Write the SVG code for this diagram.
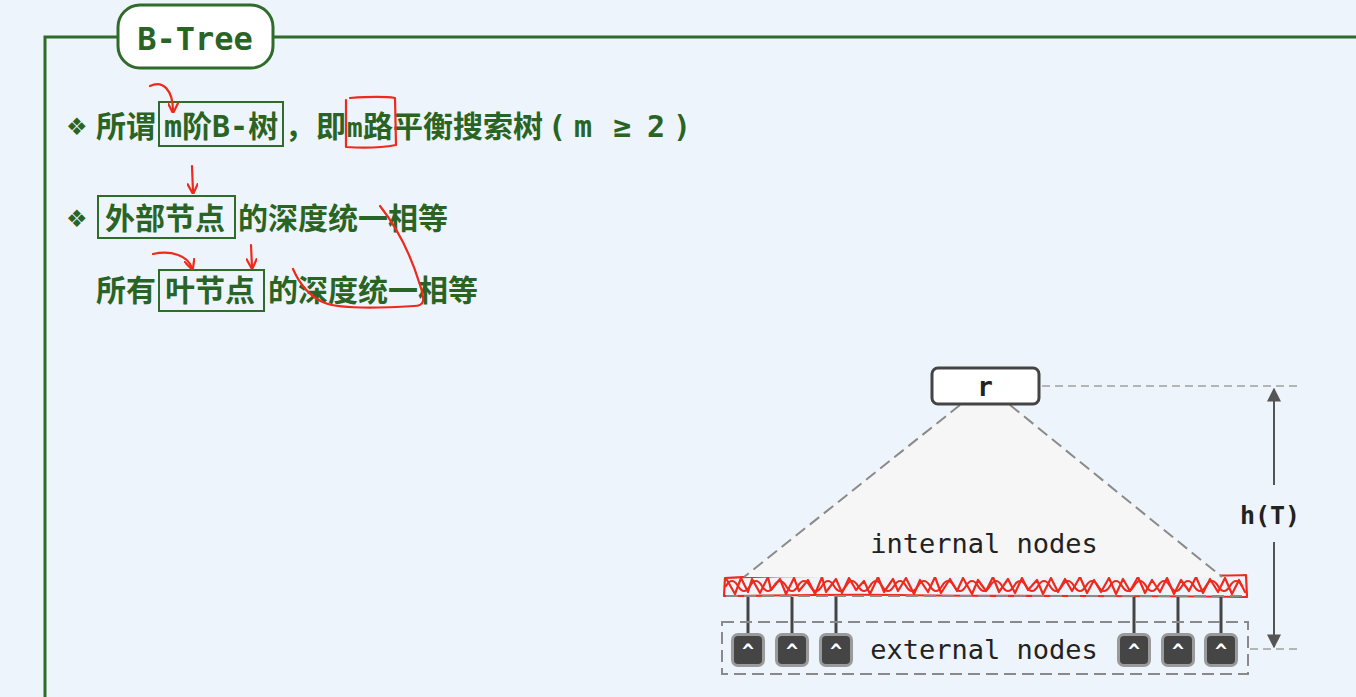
<svg xmlns="http://www.w3.org/2000/svg" width="1356" height="697" viewBox="0 0 1356 697">
<defs>
<style>
.cn{font-family:'DejaVu Sans Mono','Noto Sans CJK SC',monospace;font-weight:bold;font-size:30px;fill:#2a6424}
.bul{font-family:'DejaVu Sans','Noto Sans CJK SC',sans-serif;font-size:24px;fill:#2a6424}
.gbox{fill:none;stroke:#2f6b2a;stroke-width:2}
.red{fill:none;stroke:#ee2a1c;stroke-width:2.2;stroke-linecap:round;stroke-linejoin:round}
.mono{font-family:'DejaVu Sans Mono','Liberation Mono',monospace;font-size:27px;fill:#222}
.dash{fill:none;stroke:#8a8a8a;stroke-width:2;stroke-dasharray:12 6}
.thin{fill:none;stroke:#a0a0a0;stroke-width:1.5;stroke-dasharray:8 5}
.conn{stroke:#444;stroke-width:3}
.ext-o{fill:#9a9a9a}
.ext-i{fill:#454545}
.caret{font-family:'DejaVu Sans Mono',monospace;font-weight:bold;font-size:20px;fill:#fff;text-anchor:middle}
</style>
<marker id="ah" viewBox="0 0 10 10" refX="9" refY="5" markerWidth="7" markerHeight="7" orient="auto-start-reverse">
<path d="M0,0 L10,5 L0,10 z" fill="#555"/>
</marker>
<marker id="rah" viewBox="0 0 10 10" refX="8" refY="5" markerWidth="5" markerHeight="5" orient="auto">
<path d="M0,0 L10,5 L0,10" fill="none" stroke="#ee2a1c" stroke-width="2"/>
</marker>
</defs>
<rect width="1356" height="697" fill="#eef4fb"/>

<g id="frame">
<path d="M45,697 L45,37 L118,37 M272,37 L1356,37" fill="none" stroke="#2f6b2a" stroke-width="3"/>
</g>
<g id="title">
<rect x="118" y="5" width="155" height="63" rx="22" fill="#fff" stroke="#2f6b2a" stroke-width="3"/>
<text x="195" y="50" text-anchor="middle" style="font-family:'DejaVu Sans Mono',monospace;font-weight:bold;font-size:32px;fill:#2a6424">B-Tree</text>
</g>

<g id="line1">
<text class="bul" x="66" y="135">❖</text>
<text class="cn" x="96" y="137">所谓</text>
<rect class="gbox" x="159" y="102" width="124" height="44"/>
<text class="cn" x="164" y="137">m阶B-树</text>
<text class="cn" x="285" y="137">，</text>
<text class="cn" x="316" y="137">即</text>
<text class="cn" x="347" y="137" style="font-size:26px">m</text>
<text class="cn" x="363" y="137">路平衡搜索树</text>
<text class="cn" x="548" y="137">(</text>
<text class="cn" x="574" y="137">m</text>
<text class="cn" x="613" y="137">≥</text>
<text class="cn" x="647" y="137">2</text>
<text class="cn" x="673" y="137">)</text>
</g>

<g id="line2">
<text class="bul" x="66" y="227">❖</text>
<rect class="gbox" x="98" y="196" width="137" height="42"/>
<text class="cn" x="105" y="229">外部节点</text>
<text class="cn" x="238" y="229">的深度统一相等</text>
</g>

<g id="line3">
<text class="cn" x="96" y="301">所有</text>
<rect class="gbox" x="159" y="270" width="105" height="41"/>
<text class="cn" x="165" y="301">叶节点</text>
<text class="cn" x="268" y="301">的深度统一相等</text>
</g>

<g id="annotations">
<path class="red" d="M150,86 C163,80 173,90 173,111" marker-end="url(#rah)"/>
<path class="red" d="M350,98 C365,97 382,96 395,98 L396,145 C380,148 360,148 346,147 L346,100"/>
<path class="red" d="M192,166 L193,192" marker-end="url(#rah)"/>
<path class="red" d="M153,254 C172,250 188,256 192,268" marker-end="url(#rah)"/>
<path class="red" d="M251,245 L252,267" marker-end="url(#rah)"/>
<path class="red" d="M380,206 C395,225 410,252 420,285 C425,300 425,306 414,306 C380,308 340,309 325,303 C310,297 300,285 293,269"/>
<g id="scribble">
<path class="red" stroke-width="1.8" d="M727,580 L735,594 L741,578 L748,592 L752,579 L760,593 L768,577 L771,590 L780,579 L786,594 L794,578 L799,591 L808,580 L815,594 L822,577 L826,592 L836,579 L842,593 L849,578 L856,590 L864,581 L870,594 L878,577 L884,592 L893,579 L898,591 L906,578 L914,594 L920,580 L928,592 L935,577 L941,593 L950,579 L957,591 L963,578 L972,594 L978,580 L986,591 L993,577 L999,592 L1008,579 L1015,593 L1022,578 L1028,590 L1037,580 L1043,594 L1051,578 L1058,592 L1065,579 L1072,591 L1080,577 L1087,593 L1094,580 L1101,592 L1109,578 L1116,594 L1123,579 L1130,591 L1138,577 L1145,593 L1152,580 L1160,592 L1167,578 L1174,594 L1181,580 L1189,591 L1196,577 L1203,593 L1210,579 L1218,592 L1225,578 L1232,594 L1239,580 L1245,592"/>
<path class="red" stroke-width="1.8" d="M726,586 q6,-10 12,0 t12,0 t12,0 t12,0 t12,0 t12,0 t12,0 t12,0 t12,0 t12,0 t12,0 t12,0 t12,0 t12,0 t12,0 t12,0 t12,0 t12,0 t12,0 t12,0 t12,0 t12,0 t12,0 t12,0 t12,0 t12,0 t12,0 t12,0 t12,0 t12,0 t12,0 t12,0 t12,0 t12,0 t12,0 t12,0 t12,0 t12,0 t12,0 t12,0 t12,0 t12,0 t12,0"/>
<path class="red" stroke-width="1.8" d="M725,578 C800,574 900,577 1000,575 C1100,574 1180,577 1246,575 L1247,597 C1150,595 1000,597 900,595 C820,594 760,596 724,596 Z"/>
</g>
</g>

<g id="triangle">
<polygon points="960,405 1010,405 1222,577 744,577" fill="#f6f6f6"/>
<line class="dash" x1="960" y1="405" x2="744" y2="577"/>
<line class="dash" x1="1010" y1="405" x2="1222" y2="577"/>
<text class="mono" x="984" y="553" text-anchor="middle">internal nodes</text>
</g>

<g id="node-r">
<rect x="932" y="368" width="107" height="36" rx="6" fill="#fff" stroke="#444" stroke-width="3"/>
<text x="985" y="396" text-anchor="middle" style="font-family:'DejaVu Sans Mono',monospace;font-weight:bold;font-size:26px;fill:#222">r</text>
</g>

<g id="connectors">
<line class="dash" x1="726" y1="596" x2="1246" y2="596"/>
<line class="conn" x1="748" y1="597" x2="748" y2="634"/>
<line class="conn" x1="792" y1="597" x2="792" y2="634"/>
<line class="conn" x1="836" y1="597" x2="836" y2="634"/>
<line class="conn" x1="1134" y1="597" x2="1134" y2="634"/>
<line class="conn" x1="1178" y1="597" x2="1178" y2="634"/>
<line class="conn" x1="1221" y1="597" x2="1221" y2="634"/>
<line class="thin" x1="1042" y1="386" x2="1302" y2="386"/>
<line class="thin" x1="1250" y1="649" x2="1302" y2="649"/>
<line x1="1274" y1="485" x2="1274" y2="389" stroke="#555" stroke-width="2" marker-end="url(#ah)"/>
<line x1="1274" y1="542" x2="1274" y2="647" stroke="#555" stroke-width="2" marker-end="url(#ah)"/>
</g>

<g id="height-label">
<text x="1270" y="524" text-anchor="middle" style="font-family:'DejaVu Sans Mono',monospace;font-weight:bold;font-size:25px;fill:#222">h(T)</text>
</g>

<g id="external">
<rect class="dash" x="722" y="622" width="526" height="52"/>
<text class="mono" x="984" y="659" text-anchor="middle">external nodes</text>
<g id="ext1"><rect class="ext-o" x="731" y="633" width="34" height="34" rx="7"/><rect class="ext-i" x="734" y="636" width="28" height="28" rx="4"/><text class="caret" x="748" y="658">^</text></g>
<g id="ext2"><rect class="ext-o" x="775" y="633" width="34" height="34" rx="7"/><rect class="ext-i" x="778" y="636" width="28" height="28" rx="4"/><text class="caret" x="792" y="658">^</text></g>
<g id="ext3"><rect class="ext-o" x="819" y="633" width="34" height="34" rx="7"/><rect class="ext-i" x="822" y="636" width="28" height="28" rx="4"/><text class="caret" x="836" y="658">^</text></g>
<g id="ext4"><rect class="ext-o" x="1117" y="633" width="34" height="34" rx="7"/><rect class="ext-i" x="1120" y="636" width="28" height="28" rx="4"/><text class="caret" x="1134" y="658">^</text></g>
<g id="ext5"><rect class="ext-o" x="1161" y="633" width="34" height="34" rx="7"/><rect class="ext-i" x="1164" y="636" width="28" height="28" rx="4"/><text class="caret" x="1178" y="658">^</text></g>
<g id="ext6"><rect class="ext-o" x="1204" y="633" width="34" height="34" rx="7"/><rect class="ext-i" x="1207" y="636" width="28" height="28" rx="4"/><text class="caret" x="1221" y="658">^</text></g>
</g>
</svg>
